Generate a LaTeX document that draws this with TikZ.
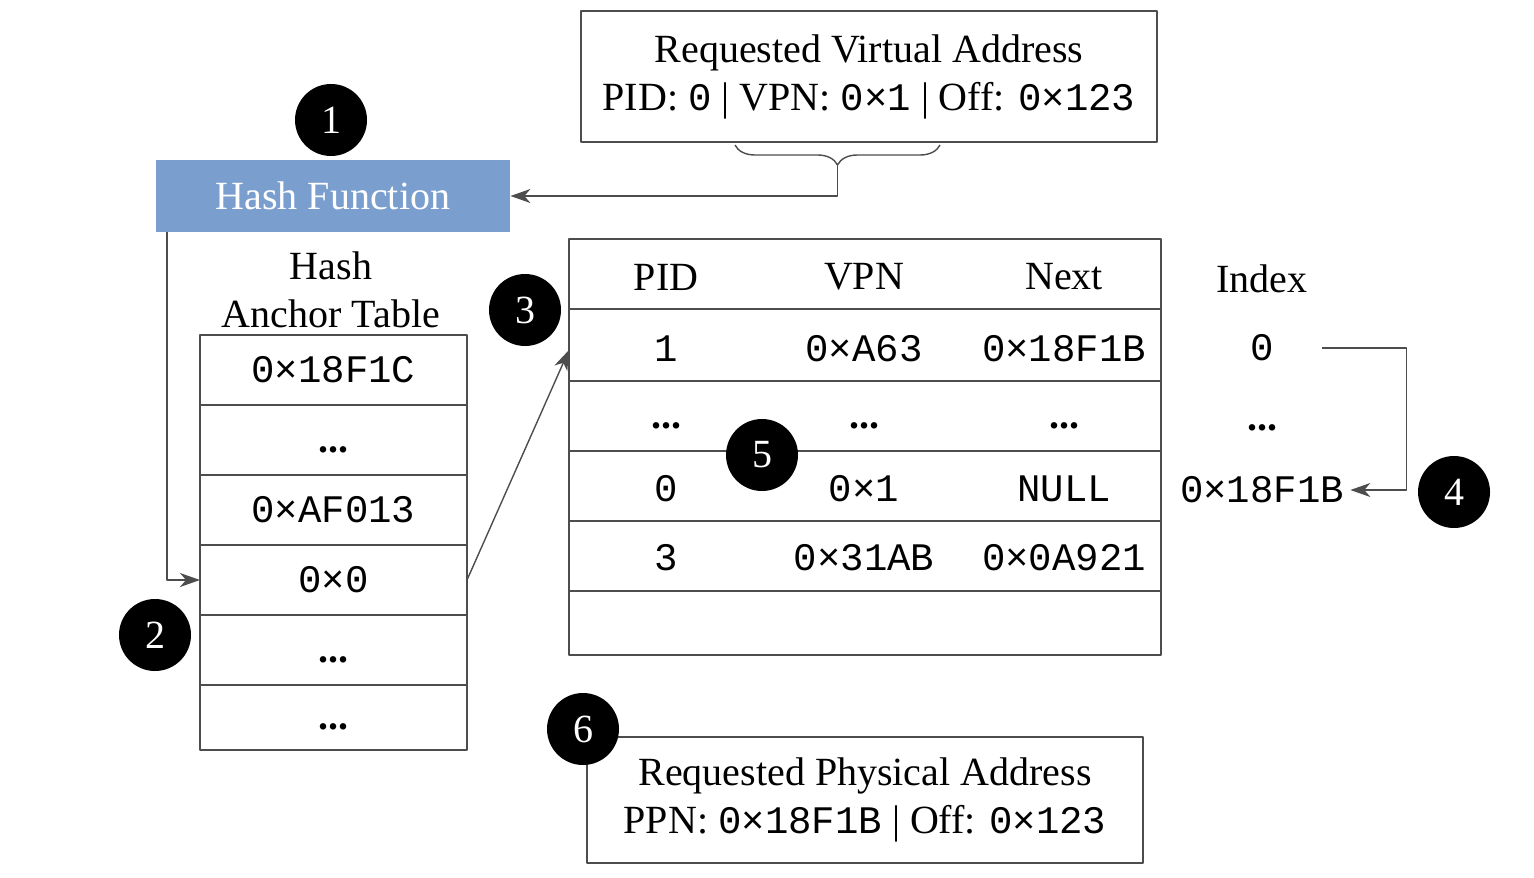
\documentclass[tikz,border=0pt]{standalone}
\usepackage{fontspec}
\setmainfont{Liberation Serif}
\setmonofont{Liberation Mono}
\usepackage{tikz}
\usetikzlibrary{arrows.meta,positioning,calc,decorations.pathreplacing}

\definecolor{hashblue}{RGB}{122,159,207}
\definecolor{linegray}{RGB}{77,77,77}
\newcommand{\bodyfont}{\fontsize{20}{24}\selectfont}
\newcommand{\addr}[1]{{\ttfamily\fontsize{19.5}{24}\selectfont #1}}
\newcommand{\more}{\textbf{...}}

\begin{document}
\begin{tikzpicture}[x=0.5pt,y=-0.5pt,>={Stealth[length=10pt,width=7pt,inset=3pt]},line join=bevel,
  every node/.style={font=\bodyfont},
  tabline/.style={draw=linegray,line width=0.7pt},
  cell/.style={tabline,minimum width=133.5pt,minimum height=35pt,inner sep=0pt,outer sep=0pt,text height=13pt,text depth=1pt},
  entry/.style={inner sep=0pt,text height=13pt,text depth=1pt},
  addrbox/.style={tabline,align=center,inner sep=0pt},
  badge/.style={circle,fill=black,text=white,minimum size=36pt,inner sep=0pt},
  link/.style={draw=linegray,line width=0.7pt,->},
]
\useasboundingbox (0,0) rectangle (1534,877);
% virtual address and its VPN brace
\node[addrbox,minimum width=288pt,minimum height=65.5pt] (va) at (869,76.5)
  {Requested Virtual Address\\PID: \addr{0} | VPN: \addr{0×1} | Off: \addr{0×123}};
\coordinate (vpnl) at (735,145);
\coordinate (vpnr) at (940,145);
\draw[tabline,decorate,decoration={brace,mirror,amplitude=10pt}] (vpnl) -- (vpnr);
\coordinate (vpntip) at (837.5,165);
% hash function
\node[fill=hashblue,text=white,minimum width=177pt,minimum height=36pt,inner sep=0pt] (hash) at (333,196) {Hash Function};
\draw[link] (vpntip) |- (hash.east);
% hash anchor table
\node[align=center,inner sep=0pt] (hatlabel) at (331,290) {Hash\\Anchor Table};
\node[cell] (a1) at (333.5,370) {\addr{0×18F1C}};
\node[cell,below=0pt of a1] (a2) {\more};
\node[cell,below=0pt of a2] (a3) {\addr{0×AF013}};
\node[cell,below=0pt of a3] (a4) {\addr{0×0}};
\node[cell,below=0pt of a4] (a5) {\more};
\node[cell,below=0pt of a5,minimum height=32.5pt] (a6) {\more};
\coordinate (hashout) at (167,232);
\draw[link] (hashout) |- (a4.west);
% inverted page table
\node[tabline,minimum width=296pt,minimum height=208pt,inner sep=0pt] (ipt) at (865,447) {};
\foreach \y in {309,381,451,521,591}
  \draw[tabline] (ipt.west |- 0,\y) -- (ipt.east |- 0,\y);
\node (pidh) at (666,277) {PID};
\node (vpnh) at (864,277) {VPN};
\node (nexth) at (1064,277) {Next};
\node[entry] (p1) at (666,349) {\addr{1}};
\node[entry] (v1) at (864,349) {\addr{0×A63}};
\node[entry] (n1) at (1064,349) {\addr{0×18F1B}};
\node[entry] (p2) at (666,416) {\more};
\node[entry] (v2) at (864,416) {\more};
\node[entry] (n2) at (1064,416) {\more};
\node[entry] (p3) at (666,489) {\addr{0}};
\node[entry] (v3) at (864,489) {\addr{0×1}};
\node[entry] (n3) at (1064,489) {\addr{NULL}};
\node[entry] (p4) at (666,558) {\addr{3}};
\node[entry] (v4) at (864,558) {\addr{0×31AB}};
\node[entry] (n4) at (1064,558) {\addr{0×0A921}};
\coordinate (ipt1) at (569,350);
\draw[link] (a4.east) -- (ipt1);
% index column
\node (indexh) at (1262,279) {Index};
\node[entry,minimum width=60pt] (i1) at (1262,348) {\addr{0}};
\node[entry] (i2) at (1262,418) {\more};
\node[entry,inner xsep=3pt] (i3) at (1262,490) {\addr{0×18F1B}};
\draw[link] (i1.east) -- ++(84,0) |- (i3.east);
% physical address
\node[addrbox,minimum width=278pt,minimum height=63pt] (pa) at (865,800)
  {Requested Physical Address\\PPN: \addr{0×18F1B} | Off: \addr{0×123}};
% step badges
\node[badge] (s1) at (331,120) {1};
\node[badge] (s2) at (155,635) {2};
\node[badge] (s3) at (525,310) {3};
\node[badge] (s4) at (1454,492) {4};
\node[badge] (s5) at (762,455) {5};
\node[badge] (s6) at (583,729) {6};
\end{tikzpicture}
\end{document}
